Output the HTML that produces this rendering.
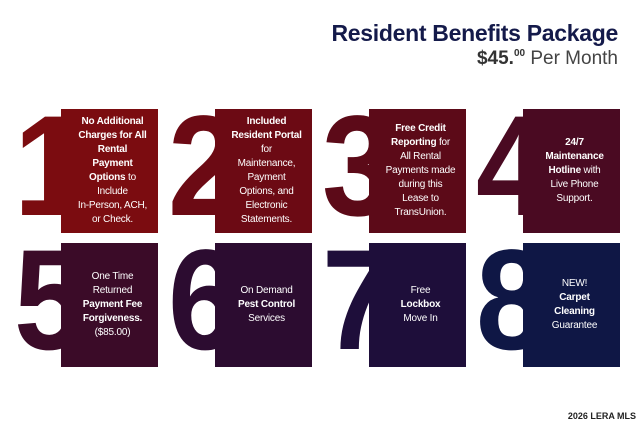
<!DOCTYPE html>
<html><head><meta charset="utf-8"><style>
*{margin:0;padding:0;box-sizing:border-box}
body{width:640px;height:427px;background:#fff;position:relative;overflow:hidden;font-family:"Liberation Sans",sans-serif}
.t{position:absolute;right:22px;top:20px;font-size:23px;font-weight:bold;color:#141a4a;letter-spacing:-0.3px}
.p{position:absolute;right:22px;top:48px;font-size:19px;color:#444}
.p b{color:#333}
.p sup{font-size:10px;vertical-align:8px}
.box{position:absolute;width:97px;height:124px}
.d{position:absolute;font-size:143px;font-weight:bold;line-height:1;transform:scaleX(0.9);transform-origin:left top}
.tx{position:absolute;width:97px;color:#fff;font-size:10px;line-height:14px;text-align:center;display:flex;align-items:center;justify-content:center;height:124px;padding:0 0 0 6px;white-space:nowrap;letter-spacing:-0.2px}
.w{position:absolute;right:4px;bottom:6px;font-size:9px;font-weight:bold;color:#222}
</style></head><body>
<div class="t">Resident Benefits Package</div>
<div class="p"><b>$45.<sup>00</sup></b> Per Month</div>

<div class="d" style="left:14px;top:95px;color:#7b0c10">1</div>
<div class="box" style="left:61px;top:109px;background:#7b0c10"></div>
<div class="tx" style="left:61px;top:109px"><div><b>No Additional<br>Charges for All<br>Rental<br>Payment<br>Options</b> to<br>Include<br>In-Person, ACH,<br>or Check.</div></div>

<div class="d" style="left:168px;top:95px;color:#6c0a14">2</div>
<div class="box" style="left:215px;top:109px;background:#6c0a14"></div>
<div class="tx" style="left:215px;top:109px"><div><b>Included<br>Resident Portal</b><br>for<br>Maintenance,<br>Payment<br>Options, and<br>Electronic<br>Statements.</div></div>

<div class="d" style="left:322px;top:95px;color:#5c0a18">3</div>
<div class="box" style="left:369px;top:109px;background:#5c0a18"></div>
<div class="tx" style="left:369px;top:109px"><div><b>Free Credit<br>Reporting</b> for<br>All Rental<br>Payments made<br>during this<br>Lease to<br>TransUnion.</div></div>

<div class="d" style="left:476px;top:95px;color:#4a0a22">4</div>
<div class="box" style="left:523px;top:109px;background:#4a0a22"></div>
<div class="tx" style="left:523px;top:109px"><div><b>24/7<br>Maintenance<br>Hotline</b> with<br>Live Phone<br>Support.</div></div>

<div class="d" style="left:14px;top:229px;color:#3b0b28">5</div>
<div class="box" style="left:61px;top:243px;background:#3b0b28"></div>
<div class="tx" style="left:61px;top:243px"><div>One Time<br>Returned<br><b>Payment Fee<br>Forgiveness.</b><br>($85.00)</div></div>

<div class="d" style="left:168px;top:229px;color:#2c0c30">6</div>
<div class="box" style="left:215px;top:243px;background:#2c0c30"></div>
<div class="tx" style="left:215px;top:243px"><div>On Demand<br><b>Pest Control</b><br>Services</div></div>

<div class="d" style="left:322px;top:229px;color:#1e0e3a">7</div>
<div class="box" style="left:369px;top:243px;background:#1e0e3a"></div>
<div class="tx" style="left:369px;top:243px"><div>Free<br><b>Lockbox</b><br>Move In</div></div>

<div class="d" style="left:476px;top:229px;color:#0f1745">8</div>
<div class="box" style="left:523px;top:243px;background:#0f1745"></div>
<div class="tx" style="left:523px;top:243px"><div>NEW!<br><b>Carpet<br>Cleaning</b><br>Guarantee</div></div>

<div class="w">2026 LERA MLS</div>
</body></html>
